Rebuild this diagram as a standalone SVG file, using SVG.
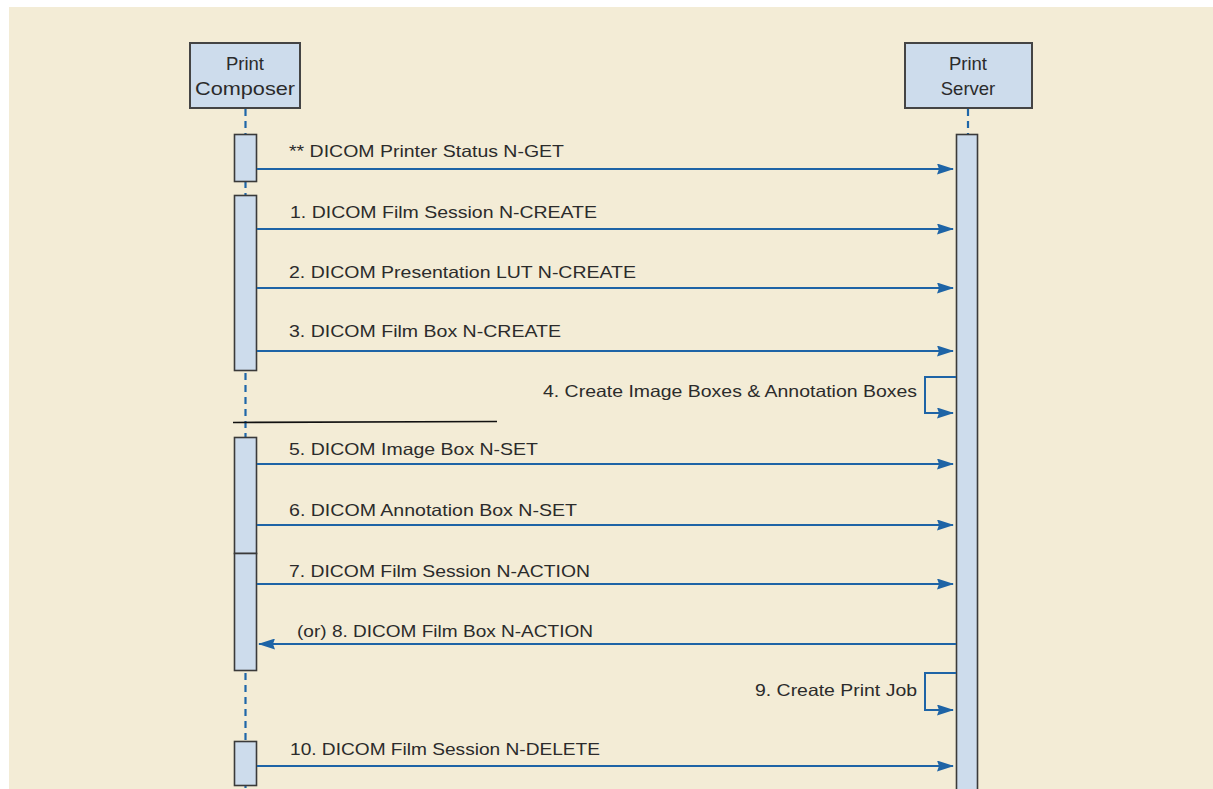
<svg xmlns="http://www.w3.org/2000/svg" width="1213" height="789" viewBox="0 0 1213 789">
<style>
.bg{fill:#f3ecd6}
.box{fill:#cddcec;stroke:#444;stroke-width:2}
.act{fill:#cddcec;stroke:#3a3a3a;stroke-width:1.6}
.life{stroke:#1e66a8;stroke-width:2.2;stroke-dasharray:7,5;fill:none}
.msg{stroke:#1e64a6;stroke-width:2;fill:none}
.lbl{font-family:"Liberation Sans",Arial,sans-serif;font-size:16.5px;fill:#2b2b2b}
.ttl{font-family:"Liberation Sans",Arial,sans-serif;font-size:18.5px;fill:#2b2b2b;text-anchor:middle}
</style>
<defs>
<marker id="ah" viewBox="0 0 17 11" refX="16" refY="5.5" markerWidth="17" markerHeight="11" markerUnits="userSpaceOnUse" orient="auto">
<path d="M0,0 L17,5.5 L0,11 L2,5.5 Z" fill="#1e64a6"/>
</marker>
</defs>
<rect x="0" y="0" width="1213" height="789" fill="#ffffff"/>
<rect class="bg" x="9" y="7" width="1204" height="782"/>

<g id="lifelines">
<line class="life" x1="245.5" y1="109" x2="245.5" y2="789"/>
<line class="life" x1="968" y1="109" x2="968" y2="134"/>
</g>

<g id="print-composer">
<rect class="box" x="190" y="43" width="110" height="65"/>
<text class="ttl" x="245" y="70">Print</text>
<text class="ttl" x="245" y="95" textLength="100" lengthAdjust="spacingAndGlyphs">Composer</text>
</g>
<g id="print-server">
<rect class="box" x="905" y="43" width="127" height="65"/>
<text class="ttl" x="968" y="70">Print</text>
<text class="ttl" x="968" y="95">Server</text>
</g>

<g id="activations">
<rect class="act" x="956.5" y="134.5" width="21" height="670"/>
<rect class="act" x="234.5" y="134.5" width="22" height="47"/>
<rect class="act" x="234.5" y="195.5" width="22" height="175"/>
<rect class="act" x="234.5" y="437.5" width="22" height="116"/>
<rect class="act" x="234.5" y="553.5" width="22" height="117"/>
<rect class="act" x="234.5" y="741.5" width="22" height="44"/>
</g>

<g id="separator">
<line x1="233" y1="422.5" x2="497" y2="421.5" stroke="#111" stroke-width="1.6"/>
</g>

<g id="connectors">
<line class="msg" x1="257" y1="169" x2="953" y2="169" marker-end="url(#ah)"/>
<line class="msg" x1="257" y1="229" x2="953" y2="229" marker-end="url(#ah)"/>
<line class="msg" x1="257" y1="288" x2="953" y2="288" marker-end="url(#ah)"/>
<line class="msg" x1="257" y1="351" x2="953" y2="351" marker-end="url(#ah)"/>
<polyline class="msg" points="956,377 925,377 925,413 953,413" marker-end="url(#ah)"/>
<line class="msg" x1="257" y1="464" x2="953" y2="464" marker-end="url(#ah)"/>
<line class="msg" x1="257" y1="525" x2="953" y2="525" marker-end="url(#ah)"/>
<line class="msg" x1="257" y1="584" x2="953" y2="584" marker-end="url(#ah)"/>
<line class="msg" x1="956" y1="644" x2="259" y2="644" marker-end="url(#ah)"/>
<polyline class="msg" points="956,673 925,673 925,710 953,710" marker-end="url(#ah)"/>
<line class="msg" x1="257" y1="766" x2="953" y2="766" marker-end="url(#ah)"/>
</g>

<g id="labels">
<text class="lbl" x="289" y="157" textLength="275" lengthAdjust="spacingAndGlyphs">** DICOM Printer Status N-GET</text>
<text class="lbl" x="290" y="218" textLength="307" lengthAdjust="spacingAndGlyphs">1. DICOM Film Session N-CREATE</text>
<text class="lbl" x="289" y="278" textLength="347" lengthAdjust="spacingAndGlyphs">2. DICOM Presentation LUT N-CREATE</text>
<text class="lbl" x="289" y="337" textLength="272" lengthAdjust="spacingAndGlyphs">3. DICOM Film Box N-CREATE</text>
<text class="lbl" x="543" y="397" textLength="374" lengthAdjust="spacingAndGlyphs">4. Create Image Boxes &amp; Annotation Boxes</text>
<text class="lbl" x="289" y="455" textLength="249" lengthAdjust="spacingAndGlyphs">5. DICOM Image Box N-SET</text>
<text class="lbl" x="289" y="516" textLength="288" lengthAdjust="spacingAndGlyphs">6. DICOM Annotation Box N-SET</text>
<text class="lbl" x="289" y="577" textLength="301" lengthAdjust="spacingAndGlyphs">7. DICOM Film Session N-ACTION</text>
<text class="lbl" x="297" y="637" textLength="296" lengthAdjust="spacingAndGlyphs">(or) 8. DICOM Film Box N-ACTION</text>
<text class="lbl" x="755" y="696" textLength="162" lengthAdjust="spacingAndGlyphs">9. Create Print Job</text>
<text class="lbl" x="290" y="755" textLength="310" lengthAdjust="spacingAndGlyphs">10. DICOM Film Session N-DELETE</text>
</g>
</svg>
